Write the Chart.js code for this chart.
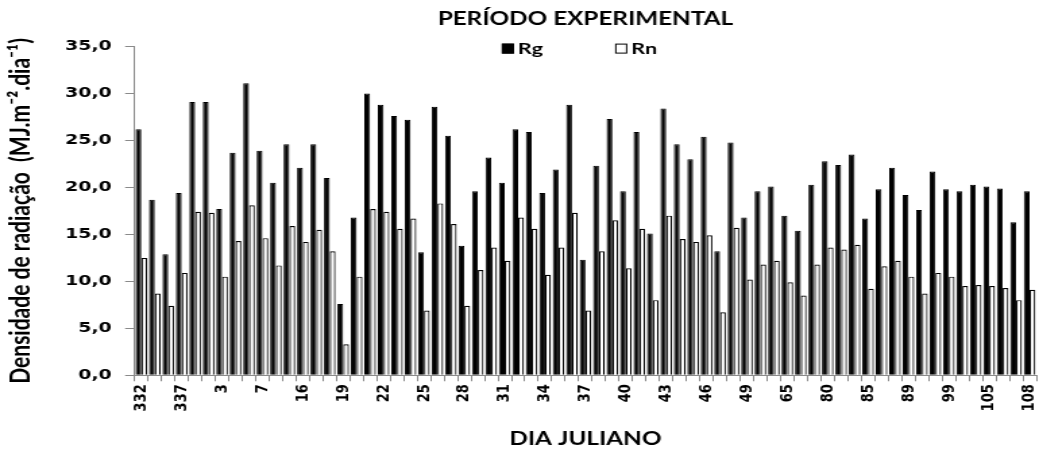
<!DOCTYPE html>
<html>
<head>
<meta charset="utf-8">
<script src="https://cdn.jsdelivr.net/npm/chart.js@4"></script>
<style>
  body { margin: 0; background: #fff; }
</style>
</head>
<body>
<!-- drawn narrower and stretched sideways, like the original picture -->
<canvas id="chart" width="770" height="452" style="display:block;width:1039px;height:452px"></canvas>
<script>
// julian day of each observation (only every third is labelled)
const days = [332, 333, 334, 337, 338, 339, 3, 4, 5, 7, 8, 9, 16, 17, 18, 19, 20, 21,
    22, 23, 24, 25, 26, 27, 28, 29, 30, 31, 32, 33, 34, 35, 36, 37, 38, 39, 40, 41, 42,
    43, 44, 45, 46, 47, 48, 49, 50, 51, 65, 66, 67, 80, 81, 82, 85, 86, 87, 89, 90, 91,
    99, 100, 101, 105, 106, 107, 108];

// global radiation (MJ.m-2.dia-1)
const rg = [26.2, 18.7, 12.9, 19.4, 29.1, 29.1, 17.7, 23.7, 31.1, 23.9, 20.5, 24.6, 22.1,
    24.6, 21.0, 7.6, 16.8, 30.0, 28.8, 27.6, 27.2, 13.1, 28.6, 25.5, 13.8, 19.6, 23.2,
    20.5, 26.2, 25.9, 19.4, 21.9, 28.8, 12.3, 22.3, 27.3, 19.6, 25.9, 15.1, 28.4, 24.6,
    23.0, 25.4, 13.2, 24.8, 16.8, 19.6, 20.1, 17.0, 15.4, 20.3, 22.8, 22.4, 23.5, 16.7,
    19.8, 22.1, 19.2, 17.6, 21.7, 19.8, 19.6, 20.3, 20.1, 19.9, 16.3, 19.6];

// net radiation (MJ.m-2.dia-1)
const rn = [12.5, 8.7, 7.4, 10.9, 17.4, 17.3, 10.5, 14.3, 18.1, 14.6, 11.7, 15.9, 14.2,
    15.5, 13.2, 3.3, 10.5, 17.7, 17.4, 15.6, 16.7, 6.9, 18.3, 16.1, 7.4, 11.2, 13.6,
    12.2, 16.8, 15.6, 10.7, 13.6, 17.3, 6.9, 13.2, 16.5, 11.4, 15.6, 8.0, 17.0, 14.5,
    14.2, 14.9, 6.7, 15.7, 10.2, 11.8, 12.2, 9.9, 8.5, 11.8, 13.6, 13.4, 13.9, 9.2,
    11.6, 12.2, 10.5, 8.7, 10.9, 10.5, 9.5, 9.6, 9.5, 9.3, 8.0, 9.1];

const labelEvery = 3;
const axisGrey = '#8a8a8a';
const calibriLike = 'Lato, "Open Sans", sans-serif';
const tahomaLike = '"DejaVu Sans", Verdana, sans-serif';

Chart.defaults.color = '#000';

// legend row sits inside the top of the plot, as in the original
const insideLegend = {
    id: 'insideLegend',
    afterDraw(chart) {
        const { ctx, chartArea } = chart;
        const mid = (chartArea.left + chartArea.right) / 2;
        const starts = [mid - 62, mid + 22];
        const boxTop = chartArea.top - 3;
        ctx.save();
        ctx.font = 'bold 16px ' + calibriLike;
        ctx.textBaseline = 'middle';
        ctx.lineWidth = 1;
        chart.data.datasets.forEach((ds, i) => {
            const x = starts[i];
            ctx.fillStyle = ds.backgroundColor;
            ctx.strokeStyle = ds.borderColor;
            ctx.fillRect(x, boxTop, 9, 10);
            ctx.strokeRect(x + 0.5, boxTop + 0.5, 8, 9);
            ctx.fillStyle = '#000';
            ctx.fillText(ds.label, x + 12, boxTop + 5.5);
        });
        ctx.restore();
    }
};

new Chart(document.getElementById('chart'), {
    type: 'bar',
    data: {
        labels: days,
        datasets: [
            {
                label: 'Rg',
                data: rg,
                backgroundColor: '#000',
                borderColor: '#000',
                borderWidth: 1
            },
            {
                label: 'Rn',
                data: rn,
                backgroundColor: '#fff',
                borderColor: '#000',
                borderWidth: 1.2
            }
        ]
    },
    options: {
        responsive: false,
        animation: false,
        devicePixelRatio: 1,
        layout: { padding: { left: 0, right: 2, top: 0, bottom: 0 } },
        datasets: {
            bar: { categoryPercentage: 0.86, barPercentage: 1.0 }
        },
        plugins: {
            tooltip: { enabled: false },
            legend: { display: false },
            title: {
                display: true,
                fullSize: false,
                text: 'PERÍODO EXPERIMENTAL',
                color: '#000',
                font: { family: calibriLike, size: 18, weight: 'bold' },
                padding: { top: 8, bottom: 17 }
            }
        },
        scales: {
            x: {
                // let the plot run almost to the right edge like the original
                afterFit: (scale) => { scale.paddingRight = 0; },
                grid: {
                    display: true,
                    drawOnChartArea: false,
                    color: axisGrey,
                    tickLength: 6
                },
                border: { color: axisGrey },
                ticks: {
                    autoSkip: false,
                    minRotation: 90,
                    maxRotation: 90,
                    padding: 3,
                    font: { family: tahomaLike, size: 13, weight: 'bold' },
                    callback: (value, index) => index % labelEvery === 0 ? days[index] : ''
                },
                title: {
                    display: true,
                    text: 'DIA JULIANO',
                    font: { family: calibriLike, size: 18, weight: 'bold' },
                    padding: { top: 14, bottom: 2 }
                }
            },
            y: {
                min: 0,
                max: 35,
                grid: {
                    display: true,
                    drawOnChartArea: false,
                    color: axisGrey,
                    tickLength: 7
                },
                border: { color: axisGrey },
                ticks: {
                    stepSize: 5,
                    padding: 10,
                    font: { family: tahomaLike, size: 14, weight: 'bold' },
                    callback: (value) => value.toFixed(1).replace('.', ',')
                },
                title: {
                    display: true,
                    text: 'Densidade de radiação  (MJ.m⁻².dia⁻¹)',
                    font: { family: calibriLike, size: 21, weight: 'bold' },
                    padding: { top: 3, bottom: 10 }
                }
            }
        }
    },
    plugins: [insideLegend]
});
</script>
</body>
</html>
